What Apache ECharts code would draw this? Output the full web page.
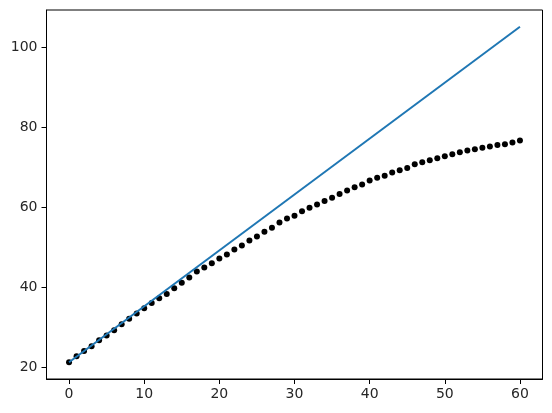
<!DOCTYPE html>
<html>
<head>
<meta charset="utf-8">
<script src="https://cdn.jsdelivr.net/npm/echarts@6/dist/echarts.min.js"></script>
<style>
  html, body { margin: 0; padding: 0; background: #fff; }
  #chart { width: 552px; height: 413px; }
</style>
</head>
<body>
<div id="chart"></div>
<script>
// values
var xs = [];
for (var i = 0; i <= 60; i++) xs.push(i);

var dotValues = [21.2, 22.7, 24.0, 25.2, 26.7, 27.9, 29.2, 30.7, 32.1, 33.4,
  34.7, 36.0, 37.2, 38.3, 39.7, 41.1, 42.4, 43.9, 44.9, 46.0,
  47.2, 48.2, 49.4, 50.4, 51.7, 52.7, 53.9, 54.9, 56.2, 57.2,
  57.9, 59.0, 59.9, 60.7, 61.6, 62.4, 63.3, 64.2, 65.0, 65.7,
  66.7, 67.4, 67.9, 68.7, 69.25, 69.85, 70.8, 71.3, 71.75, 72.25,
  72.8, 73.25, 73.75, 74.2, 74.5, 74.9, 75.25, 75.6, 75.8, 76.2, 76.7];

var lineX = [0, 60];
var lineValues = [21.2, 105.2];

var xTicks = [0, 10, 20, 30, 40, 50, 60];
var yTicks = [20, 40, 60, 80, 100];

var chart = echarts.init(document.getElementById('chart'));

var tickFont = {
    fontFamily: 'DejaVu Sans',
    fontSize: 14,
    color: '#262626'
};

chart.setOption({
    animation: false,
    backgroundColor: '#fff',
    grid: {
        left: 46.5,
        right: 9.5,
        top: 10,
        bottom: 34,
        show: true,
        borderColor: '#000',
        borderWidth: 1,
        backgroundColor: 'transparent'
    },
    xAxis: {
        type: 'value',
        min: -3,
        max: 63,
        axisLine: { show: true, onZero: false, lineStyle: { color: '#000', width: 1 } },
        axisTick: {
            show: true,
            inside: false,
            length: 5,
            customValues: xTicks,
            lineStyle: { color: '#000', width: 1 }
        },
        axisLabel: Object.assign({
            margin: 8,
            customValues: xTicks
        }, tickFont),
        splitLine: { show: false }
    },
    yAxis: {
        type: 'value',
        min: 17.0,
        max: 109.4,
        axisLine: { show: true, onZero: false, lineStyle: { color: '#000', width: 1 } },
        axisTick: {
            show: true,
            inside: false,
            length: 5,
            customValues: yTicks,
            lineStyle: { color: '#000', width: 1 }
        },
        axisLabel: Object.assign({
            margin: 9,
            customValues: yTicks
        }, tickFont),
        splitLine: { show: false }
    },
    series: [{
        type: 'scatter',
        symbol: 'circle',
        symbolSize: 6,
        itemStyle: { color: '#000', opacity: 1 },
        data: xs.map(function (x, i) { return [x, dotValues[i]]; })
    }, {
        type: 'line',
        showSymbol: false,
        lineStyle: { color: '#1f77b4', width: 2 },
        data: lineX.map(function (x, i) { return [x, lineValues[i]]; })
    }]
});
</script>
</body>
</html>
